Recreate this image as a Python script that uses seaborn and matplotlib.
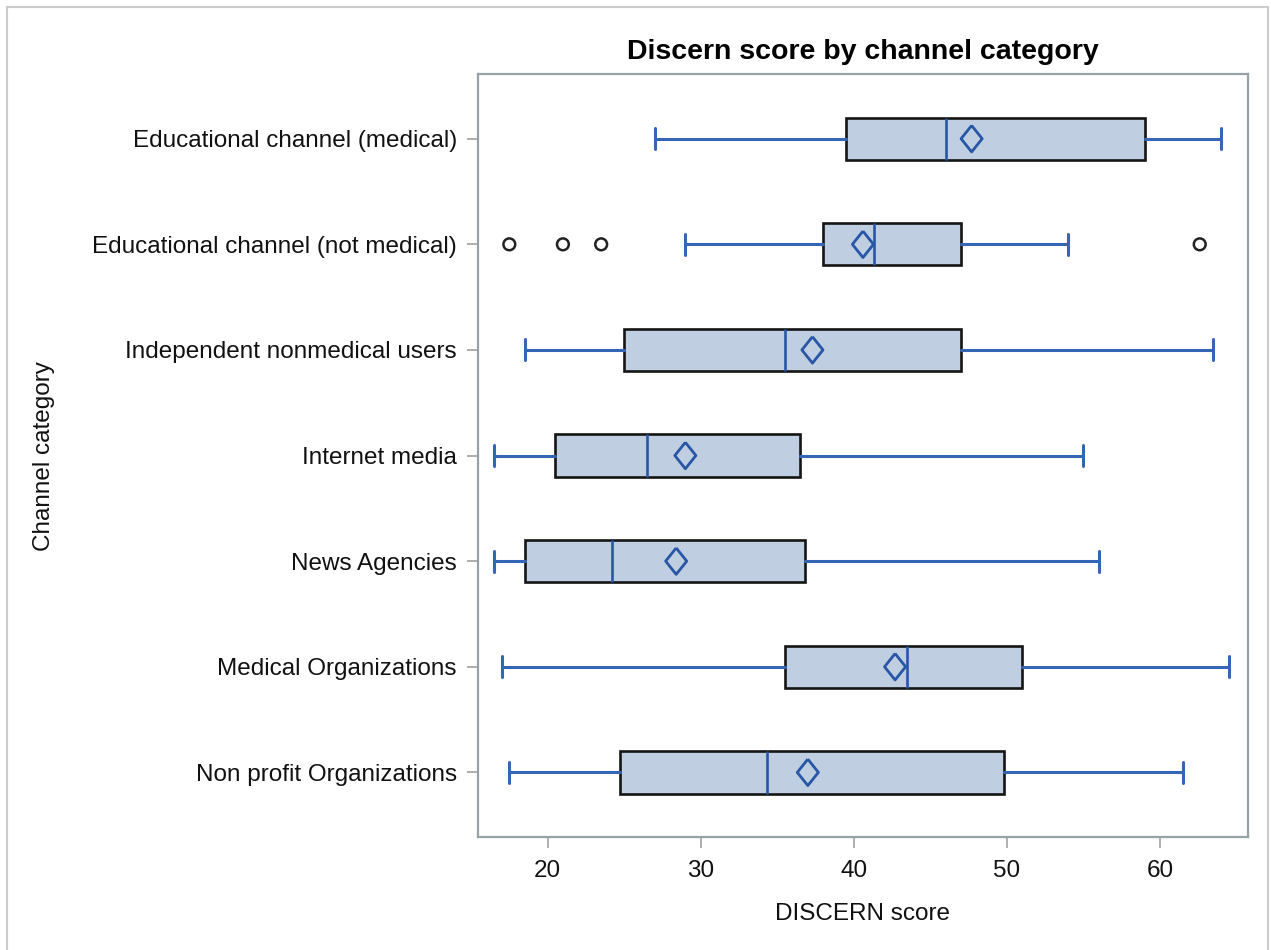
import matplotlib
matplotlib.use("Agg")
import matplotlib.pyplot as plt
from matplotlib.patches import Rectangle
import seaborn as sns
import pandas as pd

# DISCERN score summary per channel category
categories = [
    "Educational channel (medical)",
    "Educational channel (not medical)",
    "Independent nonmedical users",
    "Internet media",
    "News Agencies",
    "Medical Organizations",
    "Non profit Organizations",
]
whisker_low = [27.0, 29.0, 18.5, 16.5, 16.5, 17.0, 17.5]
q1 = [39.5, 38.0, 25.0, 20.5, 18.5, 35.5, 24.7]
median = [46.0, 41.3, 35.5, 26.5, 24.2, 43.5, 34.3]
q3 = [59.0, 47.0, 47.0, 36.5, 36.8, 51.0, 49.8]
whisker_high = [64.0, 54.0, 63.5, 55.0, 56.0, 64.5, 61.5]
mean = [47.7, 40.6, 37.3, 29.0, 28.4, 42.7, 37.0]

outlier_category = [
    "Educational channel (not medical)",
    "Educational channel (not medical)",
    "Educational channel (not medical)",
    "Educational channel (not medical)",
]
outlier_value = [17.5, 21.0, 23.5, 62.6]

x_ticks = [20, 30, 40, 50, 60]

FILL = "#BFCEE0"
BLUE = "#3566B5"
DARK_BLUE = "#2856A6"
FRAME = "#97A2A6"

sns.set_theme(style="white")
plt.rcParams["font.family"] = ["Liberation Sans", "DejaVu Sans"]

fig = plt.figure(figsize=(12.71, 9.5), dpi=100)
ax = fig.add_axes([0.3758, 0.1186, 0.6063, 0.8032])

pos = {c: i for i, c in enumerate(categories)}
stats = [
    dict(label=c, whislo=wl, q1=a, med=m, q3=b, whishi=wh, fliers=[])
    for c, wl, a, m, b, wh in zip(categories, whisker_low, q1, median, q3, whisker_high)
]
ax.bxp(
    stats,
    positions=list(range(len(categories))),
    widths=0.4,
    capwidths=0.2,
    orientation="horizontal",
    patch_artist=True,
    showfliers=False,
    boxprops=dict(facecolor=FILL, edgecolor="#151515", linewidth=1.9),
    whiskerprops=dict(color=BLUE, linewidth=2.2),
    capprops=dict(color=BLUE, linewidth=2.2),
    medianprops=dict(color=DARK_BLUE, linewidth=1.9),
    zorder=2,
)

means_df = pd.DataFrame({"score": mean, "pos": [pos[c] for c in categories]})
diamond = [(0, 1), (0.8, 0), (0, -1), (-0.8, 0), (0, 1)]
sns.scatterplot(
    data=means_df, x="score", y="pos", ax=ax, marker=diamond, s=19 ** 2,
    facecolor="none", edgecolor=DARK_BLUE, linewidth=2.0, zorder=4, legend=False,
)

out_df = pd.DataFrame({"score": outlier_value, "pos": [pos[c] for c in outlier_category]})
sns.scatterplot(
    data=out_df, x="score", y="pos", ax=ax, marker="o", s=8.5 ** 2,
    facecolor="none", edgecolor="#222222", linewidth=1.8, zorder=4, legend=False,
)

ax.set_xlim(15.43, 65.77)
ax.set_ylim(len(categories) - 1 + 0.615, -0.61)
ax.set_xticks(x_ticks)
ax.set_xticklabels([str(t) for t in x_ticks])
ax.set_yticks(range(len(categories)))
ax.set_yticklabels(categories)

for s in ax.spines.values():
    s.set_color(FRAME)
    s.set_linewidth(1.6)

ax.tick_params(axis="both", which="major", length=8, width=1.3, color="#A8A8A8",
               labelsize=17.5, labelcolor="#111111", left=True, bottom=True)
ax.tick_params(axis="x", pad=8)
ax.tick_params(axis="y", pad=7)

ax.set_xlabel("DISCERN score", fontsize=17.5, color="#111111")
ax.set_ylabel("Channel category", fontsize=17.5, color="#111111")
ax.xaxis.set_label_coords(0.5, -0.086)
ax.yaxis.set_label_coords(-0.548, 0.5)
ax.set_title("Discern score by channel category", fontsize=20.5, fontweight="bold",
             color="#000000", pad=11)
ax.grid(False)

# light outer frame around the whole graphic
fig.patches.append(Rectangle((7 / 1271, -0.02), 1261 / 1271, 1.02 - 7 / 950,
                             transform=fig.transFigure, fill=False,
                             edgecolor="#CCCCCC", linewidth=1.5, zorder=0))

fig.savefig("out.png", dpi=100)
